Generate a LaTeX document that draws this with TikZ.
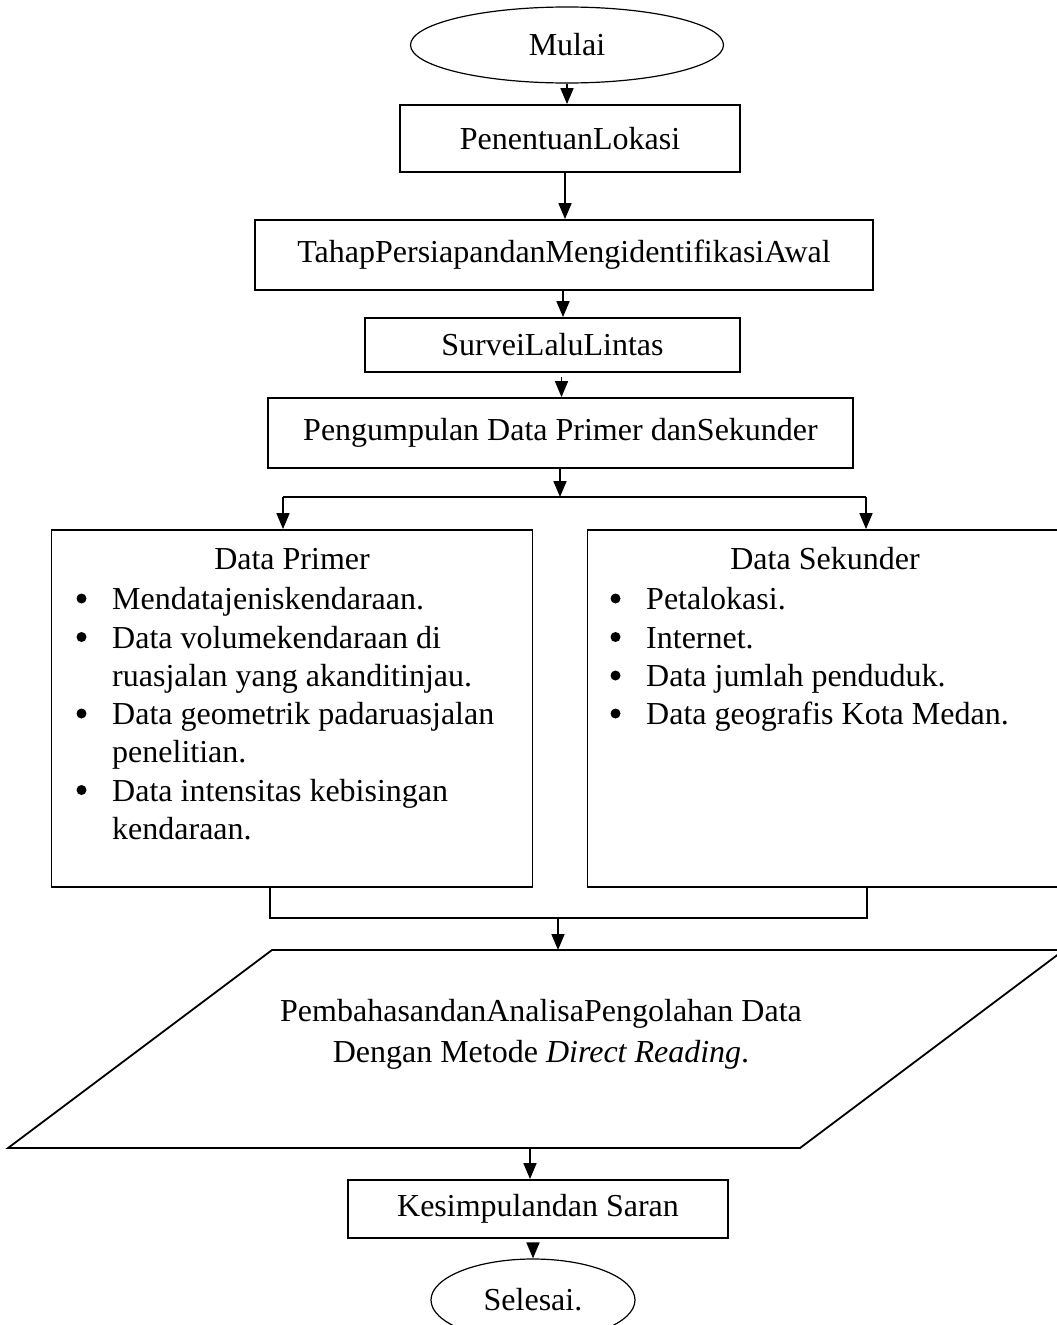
\documentclass[tikz,border=0pt]{standalone}
\usepackage{fontspec}
\setmainfont{Liberation Serif}
\usetikzlibrary{shapes.geometric,arrows.meta,calc}
\newcommand\myfs{\fontsize{32}{38}\selectfont}
\begin{document}
\begin{tikzpicture}[x=1pt,y=-1pt,
  box/.style={draw, line width=1.8pt, inner sep=0pt, font=\myfs},
  term/.style={draw, ellipse, line width=1.2pt, inner sep=0pt, font=\myfs},
  arr/.style={line width=1.7pt, -{Triangle[length=16pt,width=13pt]}},
  ln/.style={line width=1.8pt},
  txt/.style={inner sep=0pt, anchor=base west, font=\myfs},
  ctxt/.style={inner sep=0pt, anchor=base, font=\myfs},
  bul/.style={circle, fill, inner sep=0pt, minimum size=10pt},
  ]
\useasboundingbox (0,0) rectangle (1057,1325);

% main chain
\node[term, minimum width=313pt, minimum height=76pt] (mulai) at (567,45) {Mulai};
\node[box, minimum width=340pt, minimum height=67pt] (pen) at (570,138.5) {PenentuanLokasi};
\node[box, minimum width=618pt, minimum height=70pt] (tahap) at (564,255) {TahapPersiapandanMengidentifikasiAwal};
\node[box, minimum width=375pt, minimum height=54pt] (survei) at (552.5,345) {SurveiLaluLintas};
\node[box, minimum width=585pt, minimum height=70pt] (peng) at (560.5,433) {Pengumpulan Data Primer danSekunder};

% data boxes
\node[box, minimum width=481pt, minimum height=357pt] (primer) at (292,708.5) {};
\node[box, minimum width=493pt, minimum height=357pt] (sekunder) at (834,708.5) {};

% Data Primer text
\node[ctxt] (pt0) at (292,569) {Data Primer};
\node[bul] (pb1) at (81.5,598.5) {};
\node[txt] (pt1) at (112,609.5) {Mendatajeniskendaraan.};
\node[bul] (pb2) at (81.5,637) {};
\node[txt] (pt2) at (112,648) {Data volumekendaraan di};
\node[txt] (pt3) at (112,686.5) {ruasjalan yang akanditinjau.};
\node[bul] (pb4) at (81.5,713.5) {};
\node[txt] (pt4) at (112,724.5) {Data geometrik padaruasjalan};
\node[txt] (pt5) at (112,762) {penelitian.};
\node[bul] (pb6) at (81.5,790) {};
\node[txt] (pt6) at (112,801) {Data intensitas kebisingan};
\node[txt] (pt7) at (112,839) {kendaraan.};

% Data Sekunder text
\node[ctxt] (st0) at (825,569) {Data Sekunder};
\node[bul] (sb1) at (615.5,598.5) {};
\node[txt] (st1) at (646,609.5) {Petalokasi.};
\node[bul] (sb2) at (615.5,637) {};
\node[txt] (st2) at (646,648) {Internet.};
\node[bul] (sb3) at (615.5,675.5) {};
\node[txt] (st3) at (646,686.5) {Data jumlah penduduk.};
\node[bul] (sb4) at (615.5,713.5) {};
\node[txt] (st4) at (646,724.5) {Data geografis Kota Medan.};

% parallelogram
\coordinate (pa) at (8,1148);
\coordinate (pb) at (272,950);
\coordinate (pc) at (1064,950);
\coordinate (pd) at (800,1148);
\draw[ln, line join=miter] (pa) -- (pb) -- (pc) -- (pd) -- cycle;
\node[ctxt] (para1) at (541,1021) {PembahasandanAnalisaPengolahan Data};
\node[ctxt] (para2) at (541,1062) {Dengan Metode \textit{Direct Reading}.};

% end
\node[box, minimum width=380pt, minimum height=58pt] (kes) at (538,1209) {Kesimpulandan Saran};
\node[term, minimum width=204pt, minimum height=82pt] (sel) at (533,1300) {Selesai.};

% connectors
\draw[arr] (mulai.south) -- (mulai.south |- pen.north);
\draw[arr] ([xshift=-5pt]pen.south) -- ([xshift=-5pt]pen.south |- tahap.north);
\draw[arr] ([xshift=-1pt]tahap.south) -- ([xshift=-1pt]tahap.south |- survei.north);
\draw[arr, shorten <=4pt] ([xshift=9pt]survei.south) -- ([xshift=9pt]survei.south |- peng.north);

\coordinate (br) at (560,497);
\coordinate (bl) at (283,497);
\coordinate (brr) at (866,497);
\draw[arr] (peng.south -| br) -- (br);
\draw[ln] (bl) -- (brr);
\draw[arr] (bl) -- (bl |- primer.north);
\draw[arr] (brr) -- (brr |- sekunder.north);

\coordinate (ml) at (270,918);
\coordinate (mr) at (867,918);
\coordinate (mm) at (558,918);
\draw[ln] (ml |- primer.south) -- (ml) -- (mr) -- (mr |- sekunder.south);
\draw[arr] (mm) -- (mm |- pb);

\coordinate (pk) at (530,1148);
\draw[arr] (pk) -- (pk |- kes.north);
\draw[arr, shorten <=6pt] (kes.south -| sel.north) -- (sel.north);
\end{tikzpicture}
\end{document}
